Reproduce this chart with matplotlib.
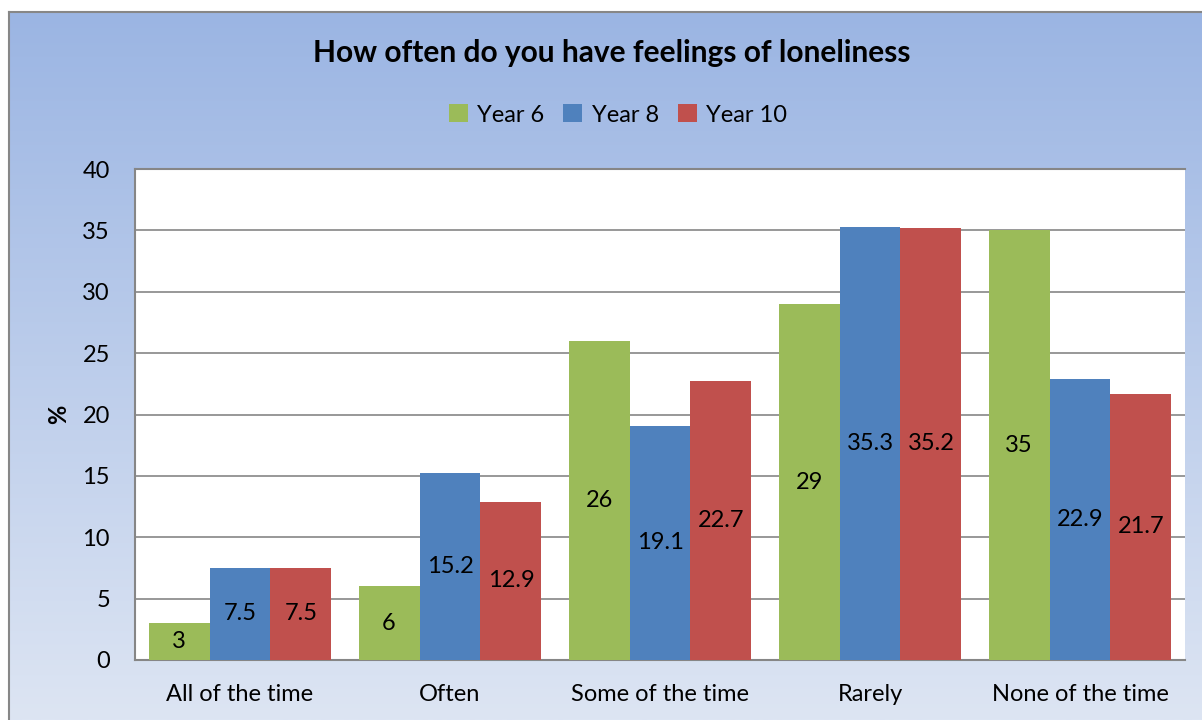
import matplotlib.pyplot as plt
import numpy as np

plt.rcParams['font.family'] = ['Lato', 'DejaVu Sans']

categories = ["All of the time", "Often", "Some of the time", "Rarely", "None of the time"]
series_names = ["Year 6", "Year 8", "Year 10"]
year6 = [3, 6, 26, 29, 35]
year8 = [7.5, 15.2, 19.1, 35.3, 22.9]
year10 = [7.5, 12.9, 22.7, 35.2, 21.7]
colors = ["#9BBB59", "#4F81BD", "#C0504D"]

fig = plt.figure(figsize=(12.02, 7.2), dpi=100)
W, H = 1202, 720

# gradient chart background
bg = fig.add_axes([9 / W, 0, 1 - 9 / W, 1 - 12 / H])
top = np.array([0x9B, 0xB5, 0xE3]) / 255
bot = np.array([0xDD, 0xE5, 0xF3]) / 255
t = np.linspace(0, 1, 256)[:, None]
grad = (top * (1 - t) + bot * t)[:, None, :]
bg.imshow(grad, aspect='auto', extent=[0, 1, 0, 1])
bg.set_xticks([])
bg.set_yticks([])
for s in ["right", "bottom"]:
    bg.spines[s].set_visible(False)
for s in ["left", "top"]:
    bg.spines[s].set_color("#878787")
    bg.spines[s].set_linewidth(1.5)

ax = fig.add_axes([135 / W, (H - 660) / H, (1185 - 135) / W, (660 - 169) / H])
ax.set_facecolor("white")
x = np.arange(len(categories))
width = 0.29
for i, (vals, name) in enumerate(zip([year6, year8, year10], series_names)):
    bars = ax.bar(x + (i - 1) * width, vals, width, color=colors[i], label=name, zorder=3)
    for b, v in zip(bars, vals):
        ax.text(b.get_x() + b.get_width() / 2, v / 2, f"{v:g}", ha="center", va="center",
                fontsize=17, zorder=4)

ax.set_xlim(-0.5, len(categories) - 0.5)
ax.set_ylim(0, 40)
ax.set_yticks(range(0, 41, 5))
ax.yaxis.grid(True, color="#868686", linewidth=1.2, zorder=0)
ax.set_xticks(x)
ax.set_xticklabels(categories, fontsize=17)
ax.tick_params(axis="y", labelsize=17, length=0, pad=18)
ax.tick_params(axis="x", length=0, pad=17)
for s in ["left", "top", "bottom"]:
    ax.spines[s].set_color("#868686")
    ax.spines[s].set_linewidth(1.5)
ax.spines["right"].set_visible(False)
ax.set_ylabel("%", fontsize=17, fontweight="bold")
ax.yaxis.set_label_coords((70 - 135) / 1050, 0.5)

fig.text(612 / W, 1 - 53 / H, "How often do you have feelings of loneliness", ha="center",
         va="center", fontsize=21.5, fontweight="bold")
ax.legend(loc="center", bbox_to_anchor=(618 / W, 1 - 115 / H), bbox_transform=fig.transFigure,
          ncol=3, frameon=False, fontsize=17, handlelength=0.8, handleheight=0.8,
          handletextpad=0.4, columnspacing=0.8)

fig.savefig("out.png", dpi=100)
